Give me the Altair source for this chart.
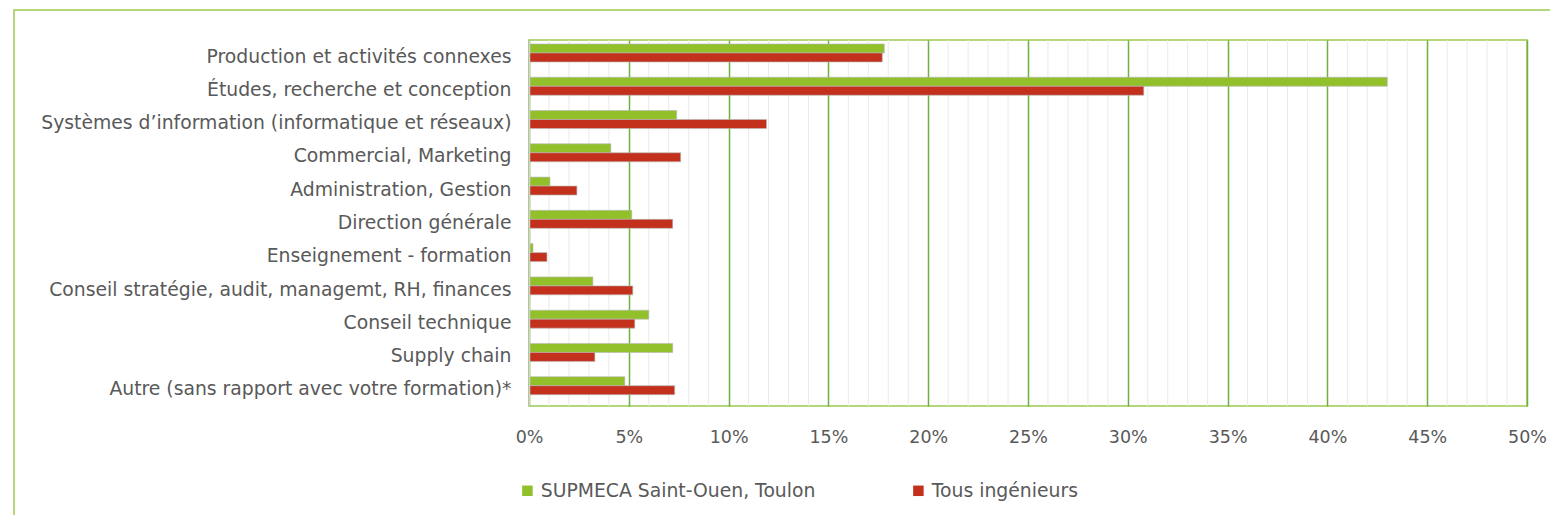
import altair as alt
import pandas as pd

categories = [
    "Production et activités connexes",
    "Études, recherche et conception",
    "Systèmes d’information (informatique et réseaux)",
    "Commercial, Marketing",
    "Administration, Gestion",
    "Direction générale",
    "Enseignement - formation",
    "Conseil stratégie, audit, managemt, RH, finances",
    "Conseil technique",
    "Supply chain",
    "Autre (sans rapport avec votre formation)*",
]
series = ["SUPMECA Saint-Ouen, Toulon", "Tous ingénieurs"]
supmeca = [17.8, 43.0, 7.4, 4.1, 1.05, 5.15, 0.2, 3.2, 6.0, 7.2, 4.8]
tous = [17.7, 30.8, 11.9, 7.6, 2.4, 7.2, 0.9, 5.2, 5.3, 3.3, 7.3]
colors = ["#92C02B", "#C3301C"]
major_ticks = [0, 5, 10, 15, 20, 25, 30, 35, 40, 45, 50]
minor_ticks = [1, 2, 3, 4, 6, 7, 8, 9, 11, 12, 13, 14, 16, 17, 18, 19,
               21, 22, 23, 24, 26, 27, 28, 29, 31, 32, 33, 34, 36, 37, 38, 39,
               41, 42, 43, 44, 46, 47, 48, 49]

rows = []
for c, a, b in zip(categories, supmeca, tous):
    rows.append({"cat": c, "series": series[0], "value": a})
    rows.append({"cat": c, "series": series[1], "value": b})
df = pd.DataFrame(rows)

FONT = "DejaVu Sans"
FS = 18.8
GREEN_FRAME = "#9ACA4F"
x_scale = alt.Scale(domain=[0, 50], nice=False, zero=True)

x_axis = alt.Axis(
    values=major_ticks,
    labelExpr="datum.value + '%'",
    grid=True,
    gridColor="#6FB040",
    gridWidth=1.5,
    domain=False,
    ticks=False,
    labelFontSize=17.5,
    labelColor="#595959",
    labelPadding=22,
    labelFont=FONT,
    labelFlush=False,
    labelOverlap=False,
    title=None,
)

frame = alt.Chart(pd.DataFrame({"k": [0]})).mark_rect(
    fillOpacity=0, stroke=GREEN_FRAME, strokeWidth=1.5
).encode(
    x=alt.value(-515), x2=alt.value(1200), y=alt.value(-30), y2=alt.value(700)
)

minor = alt.Chart(pd.DataFrame({"v": minor_ticks})).mark_rule(
    color="#EAEAEA", strokeWidth=1
).encode(x=alt.X("v:Q", scale=x_scale, axis=x_axis))

bars = alt.Chart(df).mark_bar(
    stroke="#B8B8B8", strokeWidth=0.8, strokeOpacity=0.8
).encode(
    x=alt.X("value:Q", scale=x_scale, axis=x_axis),
    y=alt.Y(
        "cat:N",
        sort=categories,
        scale=alt.Scale(paddingInner=0, paddingOuter=0),
        axis=alt.Axis(
            title=None,
            ticks=False,
            labelFontSize=FS,
            labelFont=FONT,
            labelColor="#595959",
            labelPadding=18,
            domainColor="#D0D0D0",
            domainWidth=1.5,
            labelLimit=700,
            zindex=1,
        ),
    ),
    yOffset=alt.YOffset(
        "series:N",
        sort=series,
        scale=alt.Scale(paddingInner=0, paddingOuter=0.85, align=0.26),
    ),
    color=alt.Color(
        "series:N",
        sort=series,
        scale=alt.Scale(domain=series, range=colors),
        legend=alt.Legend(
            title=None,
            orient="none",
            legendX=-11,
            legendY=441,
            direction="horizontal",
            symbolType="square",
            symbolSize=110,
            symbolStrokeWidth=0,
            labelFontSize=FS,
            labelFont=FONT,
            labelColor="#595959",
            labelLimit=500,
            columnPadding=93,
            labelOffset=4,
        ),
    ),
)

chart = alt.layer(frame, minor, bars).properties(
    width=998,
    height=366,
    autosize=alt.AutoSizeParams(type="none"),
    padding={"left": 521, "top": 32, "right": 23, "bottom": 109},
).configure(
    font=FONT,
    view=alt.ViewConfig(stroke=GREEN_FRAME, strokeWidth=1.5),
)

chart.save("out.html", embed_options={"renderer": "svg", "actions": False})
